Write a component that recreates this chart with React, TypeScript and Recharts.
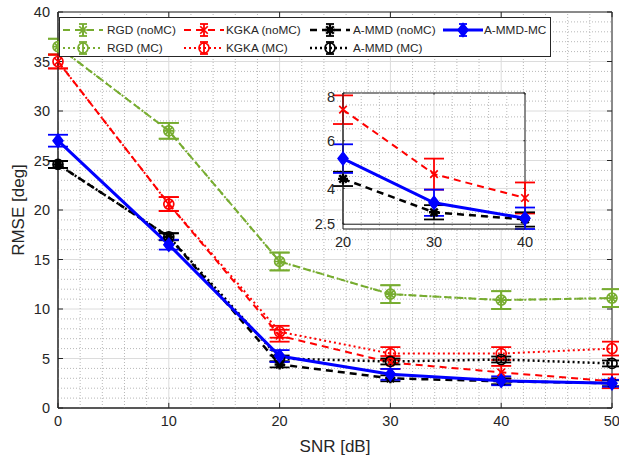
import React from "react";
import {
  CartesianGrid,
  ErrorBar,
  Line,
  LineChart,
  ReferenceArea,
  ReferenceLine,
  XAxis,
  YAxis,
} from "recharts";

// SNR [dB]
const snr = [0, 10, 20, 30, 40, 50];

// RMSE [deg]
const rgdNoMC = [36.5, 28.0, 14.8, 11.5, 10.9, 11.1];
const rgdMC = [36.5, 28.0, 14.8, 11.5, 10.9, 11.1];
const rgdErr = [0.8, 0.8, 0.9, 0.9, 0.9, 0.9];

const kgkaNoMC = [35.0, 20.6, 7.3, 4.6, 3.6, 2.7];
const kgkaMC = [35.0, 20.6, 7.7, 5.5, 5.5, 6.0];
const kgkaErr = [0.7, 0.7, 0.6, 0.65, 0.65, 0.7];

const ammdNoMC = [24.6, 17.3, 4.4, 3.0, 2.7, 2.5];
const ammdMC = [24.6, 17.3, 5.0, 4.7, 4.9, 4.5];
const ammdErr = [0.35, 0.35, 0.3, 0.3, 0.3, 0.3];

const ammdMcMC = [27.0, 16.5, 5.25, 3.4, 2.75, 2.5];
const ammdMcErr = [0.6, 0.5, 0.6, 0.55, 0.45, 0.35];

const xTicks = [0, 10, 20, 30, 40, 50];
const yTicks = [0, 5, 10, 15, 20, 25, 30, 35, 40];
const insetXTicks = [20, 30, 40];
const insetYTicks = [2.5, 4, 6, 8];

const GREEN = "#77AC30";
const RED = "#FF0000";
const BLUE = "#0000FF";
const BLACK = "#000000";
const AXIS = "#262626";
const MINOR = "#b8b8b8";
const FONT = "'Liberation Sans', Arial, Helvetica, sans-serif";

const data = snr.map((s, i) => ({
  snr: s,
  rgdNoMC: rgdNoMC[i],
  rgdMC: rgdMC[i],
  rgdErr: rgdErr[i],
  kgkaNoMC: kgkaNoMC[i],
  kgkaMC: kgkaMC[i],
  kgkaErr: kgkaErr[i],
  ammdNoMC: ammdNoMC[i],
  ammdMC: ammdMC[i],
  ammdErr: ammdErr[i],
  ammdMcMC: ammdMcMC[i],
  ammdMcErr: ammdMcErr[i],
}));

const insetData = data.filter((d) => d.snr >= 20 && d.snr <= 40);

type Shape = "asterisk" | "x" | "circle" | "diamond" | "star";

const series = [
  { key: "rgdNoMC", name: "RGD (noMC)", color: GREEN, dash: "7 5", width: 2, shape: "asterisk" as Shape, err: "rgdErr" },
  { key: "rgdMC", name: "RGD (MC)", color: GREEN, dash: "2 3", width: 2, shape: "circle" as Shape, err: "rgdErr" },
  { key: "kgkaNoMC", name: "KGKA (noMC)", color: RED, dash: "7 5", width: 2, shape: "x" as Shape, err: "kgkaErr" },
  { key: "kgkaMC", name: "KGKA (MC)", color: RED, dash: "2 3", width: 2, shape: "circle" as Shape, err: "kgkaErr" },
  { key: "ammdNoMC", name: "A-MMD (noMC)", color: BLACK, dash: "7 5", width: 2.5, shape: "star" as Shape, err: "ammdErr" },
  { key: "ammdMC", name: "A-MMD (MC)", color: BLACK, dash: "2 3", width: 2.5, shape: "circle" as Shape, err: "ammdErr" },
  { key: "ammdMcMC", name: "A-MMD-MC", color: BLUE, dash: undefined, width: 3, shape: "diamond" as Shape, err: "ammdMcErr" },
];

const minorX = Array.from({ length: 26 }, (_, i) => i * 2).filter((v) => v % 10 !== 0);
const minorY = Array.from({ length: 41 }, (_, i) => i).filter((v) => v % 5 !== 0);
const insetMinorX = [22, 24, 26, 28, 32, 34, 36, 38];
const insetMinorY = [3, 3.5, 4.5, 5, 5.5, 6.5, 7, 7.5];

function Marker({ cx, cy, shape, color, s = 5 }: any) {
  if (cx == null || cy == null) return null;
  const sw = 1.7;
  if (shape === "circle") {
    return <circle cx={cx} cy={cy} r={s} fill="none" stroke={color} strokeWidth={sw} />;
  }
  if (shape === "diamond") {
    return (
      <polygon
        points={`${cx},${cy - s - 1.5} ${cx + s},${cy} ${cx},${cy + s + 1.5} ${cx - s},${cy}`}
        fill={color}
        stroke={color}
        strokeWidth={1.5}
      />
    );
  }
  const d = s * 0.75;
  const diag = `M${cx - d},${cy - d}L${cx + d},${cy + d}M${cx - d},${cy + d}L${cx + d},${cy - d}`;
  const plus = `M${cx - s},${cy}L${cx + s},${cy}M${cx},${cy - s}L${cx},${cy + s}`;
  if (shape === "x") {
    return <path d={diag} stroke={color} strokeWidth={sw} fill="none" />;
  }
  if (shape === "star") {
    return <path d={diag + plus} stroke={color} strokeWidth={2.4} fill="none" />;
  }
  return <path d={diag + plus} stroke={color} strokeWidth={sw} fill="none" />;
}

function renderSeries(list: typeof series) {
  return list.map((s) => (
    <Line
      key={s.key}
      type="linear"
      dataKey={s.key}
      stroke={s.color}
      strokeWidth={s.width}
      strokeDasharray={s.dash}
      isAnimationActive={false}
      dot={(p: any) => <Marker key={`${s.key}-${p.index}`} cx={p.cx} cy={p.cy} shape={s.shape} color={s.color} />}
      activeDot={false}
    >
      <ErrorBar dataKey={s.err} direction="y" width={10} stroke={s.color} strokeWidth={1.8} />
    </Line>
  ));
}

// dotted minor grid drawn as reference lines
function minorLines(xs: number[], ys: number[], prefix: string) {
  return [
    ...xs.map((v) => (
      <ReferenceLine key={`${prefix}x${v}`} x={v} stroke={MINOR} strokeDasharray="1 2" strokeWidth={1} />
    )),
    ...ys.map((v) => (
      <ReferenceLine key={`${prefix}y${v}`} y={v} stroke={MINOR} strokeDasharray="1 2" strokeWidth={1} />
    )),
  ];
}

// short inward tick marks on all four sides
function inwardTicks(xs: number[], ys: number[], x0: number, x1: number, y0: number, y1: number, prefix: string) {
  const dy = (y1 - y0) * 0.013;
  const dx = (x1 - x0) * 0.009;
  const out: any[] = [];
  xs.forEach((v) => {
    out.push(<ReferenceLine key={`${prefix}tb${v}`} segment={[{ x: v, y: y0 }, { x: v, y: y0 + dy }]} stroke={AXIS} />);
    out.push(<ReferenceLine key={`${prefix}tt${v}`} segment={[{ x: v, y: y1 }, { x: v, y: y1 - dy }]} stroke={AXIS} />);
  });
  ys.forEach((v) => {
    out.push(<ReferenceLine key={`${prefix}tl${v}`} segment={[{ x: x0, y: v }, { x: x0 + dx, y: v }]} stroke={AXIS} />);
    out.push(<ReferenceLine key={`${prefix}tr${v}`} segment={[{ x: x1, y: v }, { x: x1 - dx, y: v }]} stroke={AXIS} />);
  });
  return out;
}

function LegendBox() {
  const cols = [3, 124, 250, 383];
  const textCols = [47, 166, 293, 424];
  const rows = [12, 30];
  const placement = [
    [0, 0],
    [0, 1],
    [1, 0],
    [1, 1],
    [2, 0],
    [2, 1],
    [3, 0],
  ];
  return (
    <div
      style={{
        position: "absolute",
        left: 59,
        top: 17,
        width: 490,
        height: 38,
        background: "white",
        border: `1px solid ${AXIS}`,
      }}
    >
      <svg width={490} height={38} style={{ position: "absolute", left: 0, top: 0 }}>
        {series.map((s, i) => {
          const [c, r] = placement[i];
          const x0 = cols[c];
          const y = rows[r];
          const xm = x0 + 20;
          return (
            <g key={s.key}>
              <line x1={x0} y1={y} x2={x0 + 40} y2={y} stroke={s.color} strokeWidth={s.width} strokeDasharray={s.dash} />
              <line x1={xm} y1={y - 6} x2={xm} y2={y + 6} stroke={s.color} strokeWidth={1.8} />
              <line x1={xm - 4} y1={y - 6} x2={xm + 4} y2={y - 6} stroke={s.color} strokeWidth={1.8} />
              <line x1={xm - 4} y1={y + 6} x2={xm + 4} y2={y + 6} stroke={s.color} strokeWidth={1.8} />
              <Marker cx={xm} cy={y} shape={s.shape} color={s.color} />
              <text x={textCols[c]} y={y + 4.4} fill={AXIS} fontSize={11.8} fontFamily={FONT}>
                {s.name}
              </text>
            </g>
          );
        })}
      </svg>
    </div>
  );
}

const tickStyle = { fill: AXIS, fontSize: 14.5, fontFamily: FONT };

export default function App() {
  const insetSeries = series.filter((s) => ["kgkaNoMC", "ammdNoMC", "ammdMcMC"].includes(s.key));
  return (
    <div style={{ position: "absolute", left: 0, top: 0, width: 619, height: 460, background: "white" }}>
      <LineChart
        width={619}
        height={460}
        data={data}
        margin={{ top: 12, right: 7, left: 0, bottom: 0 }}
        style={{ fontFamily: FONT }}
      >
        <CartesianGrid stroke="#dcdcdc" strokeWidth={1} />
        {minorLines(minorX, minorY, "m")}
        <XAxis
          dataKey="snr"
          type="number"
          domain={[0, 50]}
          ticks={xTicks}
          tick={tickStyle}
          tickLine={false}
          axisLine={{ stroke: AXIS }}
          height={52}
          label={{ value: "SNR [dB]", position: "insideBottom", offset: 8, fill: AXIS, fontSize: 17, fontFamily: FONT }}
        />
        <YAxis
          type="number"
          domain={[0, 40]}
          ticks={yTicks}
          tick={tickStyle}
          tickLine={false}
          axisLine={{ stroke: AXIS }}
          width={58}
          label={{
            value: "RMSE [deg]",
            angle: -90,
            position: "insideLeft",
            offset: 18,
            fill: AXIS,
            fontSize: 17,
            fontFamily: FONT,
            style: { textAnchor: "middle" },
          }}
        />
        <ReferenceArea x1={0} x2={50} y1={0} y2={40} fill="none" stroke={AXIS} strokeWidth={1} />
        {inwardTicks(xTicks, yTicks, 0, 50, 0, 40, "m")}
        {renderSeries(series)}
      </LineChart>

      <div style={{ position: "absolute", left: 313, top: 88 }}>
        <LineChart
          width={230}
          height={170}
          data={insetData}
          margin={{ top: 5, right: 18, left: 0, bottom: 5 }}
          style={{ fontFamily: FONT }}
        >
          <CartesianGrid stroke="#dcdcdc" fill="white" fillOpacity={1} />
          {minorLines(insetMinorX, insetMinorY, "i")}
          <XAxis
            dataKey="snr"
            type="number"
            domain={[20, 40]}
            ticks={insetXTicks}
            tick={tickStyle}
            tickLine={false}
            axisLine={{ stroke: AXIS }}
            height={24}
          />
          <YAxis
            type="number"
            domain={[2.5, 8]}
            ticks={insetYTicks}
            tick={tickStyle}
            tickLine={false}
            axisLine={{ stroke: AXIS }}
            width={30}
          />
          <ReferenceArea x1={20} x2={40} y1={2.5} y2={8} fill="none" stroke={AXIS} strokeWidth={1} />
          {inwardTicks(insetXTicks, insetYTicks, 20, 40, 2.5, 8, "i")}
          {renderSeries(insetSeries)}
        </LineChart>
      </div>

      <LegendBox />
    </div>
  );
}
